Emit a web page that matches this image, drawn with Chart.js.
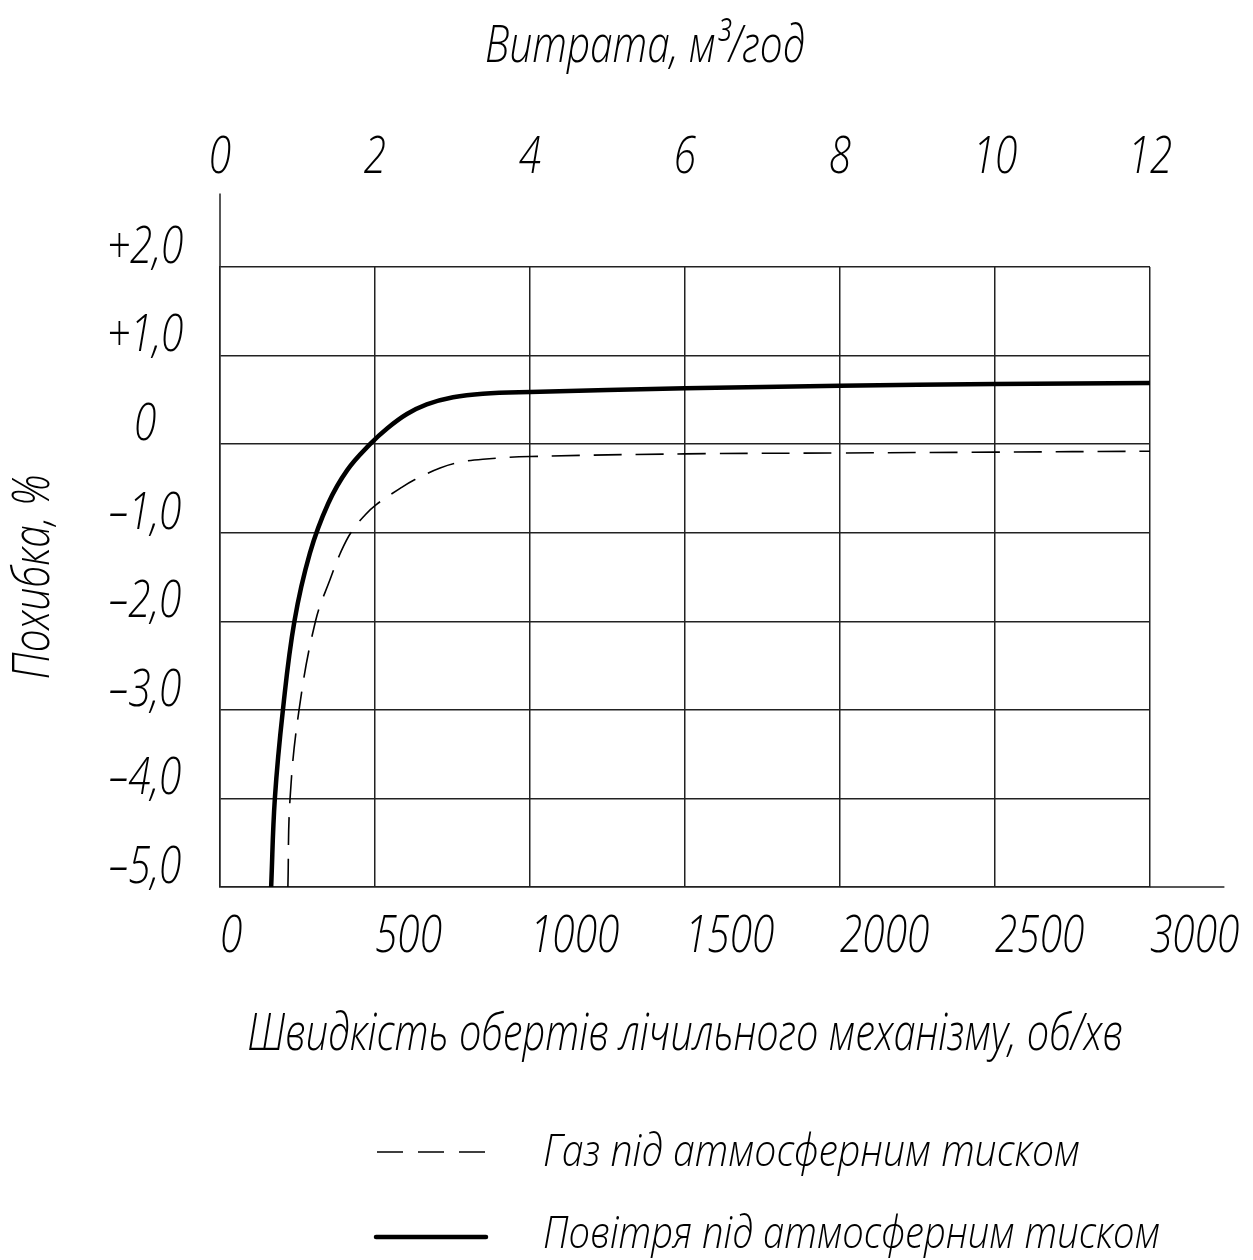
<!DOCTYPE html>
<html>
<head>
<meta charset="utf-8">
<script src="https://cdn.jsdelivr.net/npm/chart.js@4/dist/chart.umd.min.js"></script>
<style>
  body { margin: 0; background: #fff; }
  #wrap { position: relative; width: 1253px; height: 1260px; }
  #legend { position: absolute; left: 0; top: 0; pointer-events: none; }
  #legend text { font-family: 'Open Sans', 'Noto Sans', sans-serif; font-style: italic; font-weight: 300; font-size: 44px; fill: #000; }
</style>
</head>
<body>
<div id="wrap">
  <canvas id="chart" width="1253" height="1260"></canvas>
  <svg id="legend" width="1253" height="1260">
    <line x1="377" y1="1152" x2="488" y2="1152" stroke="#000" stroke-width="1.6" stroke-dasharray="26 15" />
    <text x="543" y="1166" textLength="537" lengthAdjust="spacingAndGlyphs">Газ під атмосферним тиском</text>
    <line x1="376" y1="1237" x2="486" y2="1237" stroke="#000" stroke-width="4.5" stroke-linecap="round" />
    <text x="543" y="1248" textLength="617" lengthAdjust="spacingAndGlyphs">Повітря під атмосферним тиском</text>
  </svg>
</div>
<script>
const FONT = "'Open Sans', 'Noto Sans', sans-serif"
const GRID = "#222"
const SQUEEZE = 0.78 // drafting lettering is narrow

// speed of the counting mechanism, rev/min  ->  error, %
const airRpm = [165, 177, 203, 240, 290, 349, 411, 484, 540, 603, 667, 752, 848, 1000, 1500, 2000, 2500, 3000]
const airError = [-5.0, -4.0, -3.0, -2.0, -1.23, -0.67, -0.29, 0.0, 0.18, 0.34, 0.45, 0.53, 0.57, 0.59, 0.63, 0.66, 0.68, 0.69]

const gasRpm = [219, 226, 255, 308, 358, 387, 422, 468, 505, 581, 629, 710, 774, 848, 1000, 1500, 2000, 2500, 3000]
const gasError = [-5.0, -4.0, -3.0, -2.0, -1.5, -1.24, -1.0, -0.8, -0.68, -0.5, -0.4, -0.27, -0.205, -0.17, -0.14, -0.11, -0.1, -0.09, -0.08]

const speedTicks = [0, 500, 1000, 1500, 2000, 2500, 3000]
const flowTicks = [0, 2, 4, 6, 8, 10, 12]
const errorTicks = [-5, -4, -3, -2, -1, 0, 1, 2]

// the axis lines run a bit past the grid
const Y_AXIS_TOP = 2.83
const X_AXIS_END = 3240

const toPoints = (xs, ys) => xs.map((x, i) => ({ x: x, y: ys[i] }))

const errorLabel = (v) => {
  if (v === 0) return "0"
  return (v > 0 ? "+" : "–") + Math.abs(v).toFixed(1).replace(".", ",")
}

const tickFont = { family: FONT, size: 52, style: "italic", weight: "300" }

const condense = {
  id: "condense",
  beforeDraw(chart) {
    const ctx = chart.ctx
    if (ctx.plainFillText) return
    ctx.plainFillText = ctx.fillText
    ctx.fillText = function (text, x, y, maxWidth) {
      const w = this.measureText(text).width * SQUEEZE
      const limit = maxWidth === undefined ? w : Math.min(w, maxWidth)
      this.plainFillText(text, x, y, limit)
    }
  },
}

const axisExtension = {
  id: "axisExtension",
  afterDraw(chart) {
    const { ctx, scales } = chart
    const x = scales.x
    const y = scales.y
    ctx.save()
    ctx.strokeStyle = GRID
    ctx.lineWidth = 1.5
    ctx.beginPath()
    const x0 = Math.round(x.getPixelForValue(0))
    ctx.moveTo(x0, y.getPixelForValue(2))
    ctx.lineTo(x0, y.getPixelForValue(Y_AXIS_TOP))
    const yb = Math.round(y.getPixelForValue(-5))
    ctx.moveTo(x.getPixelForValue(3000), yb)
    ctx.lineTo(x.getPixelForValue(X_AXIS_END), yb)
    ctx.stroke()
    ctx.restore()
  },
}

new Chart(document.getElementById("chart"), {
  type: "line",
  data: {
    datasets: [
      {
        label: "Газ під атмосферним тиском",
        data: toPoints(gasRpm, gasError),
        borderColor: "#000",
        borderWidth: 1.6,
        borderDash: [28, 14],
        pointRadius: 0,
        tension: 0.4,
      },
      {
        label: "Повітря під атмосферним тиском",
        data: toPoints(airRpm, airError),
        borderColor: "#000",
        borderWidth: 4.5,
        pointRadius: 0,
        tension: 0.4,
      },
    ],
  },
  options: {
    responsive: false,
    animation: false,
    devicePixelRatio: 1,
    layout: { padding: { left: 37, right: 0, top: 0, bottom: 160 } },
    plugins: {
      legend: { display: false },
      tooltip: { enabled: false },
      title: {
        display: true,
        text: "Витрата, м³/год",
        color: "#000",
        font: { family: FONT, size: 52, style: "italic", weight: "300", lineHeight: 1.2 },
        padding: { top: 16, bottom: 10.6 },
      },
    },
    scales: {
      x: {
        type: "linear",
        position: "bottom",
        min: 0,
        max: 3000,
        afterBuildTicks: (scale) => { scale.ticks = speedTicks.map((v) => ({ value: v })) },
        afterFit: (scale) => {
          scale.height = 213
          scale.paddingLeft = 0
          scale.paddingRight = 103
        },
        grid: { color: GRID, lineWidth: 1.5, drawTicks: false },
        border: { color: GRID, width: 1.5 },
        ticks: {
          align: "start",
          padding: 19,
          color: "#000",
          maxRotation: 0,
          font: tickFont,
          callback: (v) => String(v),
        },
        title: {
          display: true,
          text: "Швидкість обертів лічильного механізму, об/хв",
          color: "#000",
          padding: { bottom: 34 },
          font: { family: FONT, size: 51, style: "italic", weight: "300" },
        },
      },
      x2: {
        type: "linear",
        position: "top",
        min: 0,
        max: 12,
        afterBuildTicks: (scale) => { scale.ticks = flowTicks.map((v) => ({ value: v })) },
        afterFit: (scale) => {
          scale.height = 178
          scale.paddingLeft = 0
          scale.paddingRight = 0
        },
        grid: { display: false, drawTicks: false },
        border: { display: false },
        ticks: {
          padding: 78,
          color: "#000",
          maxRotation: 0,
          font: tickFont,
          callback: (v) => String(v),
        },
      },
      y: {
        type: "linear",
        min: -5,
        max: 2,
        afterBuildTicks: (scale) => { scale.ticks = errorTicks.map((v) => ({ value: v })) },
        afterFit: (scale) => { scale.width = 183 },
        grid: { color: GRID, lineWidth: 1.5, drawTicks: false },
        border: { color: GRID, width: 1.5 },
        ticks: {
          crossAlign: "center",
          padding: 26,
          labelOffset: -19,
          color: "#000",
          font: tickFont,
          callback: (v) => errorLabel(v),
        },
        title: {
          display: true,
          text: "Похибка, %",
          color: "#000",
          padding: { top: -29 },
          font: { family: FONT, size: 52, style: "italic", weight: "300", lineHeight: 1 },
        },
      },
    },
  },
  plugins: [condense, axisExtension],
})
</script>
</body>
</html>
